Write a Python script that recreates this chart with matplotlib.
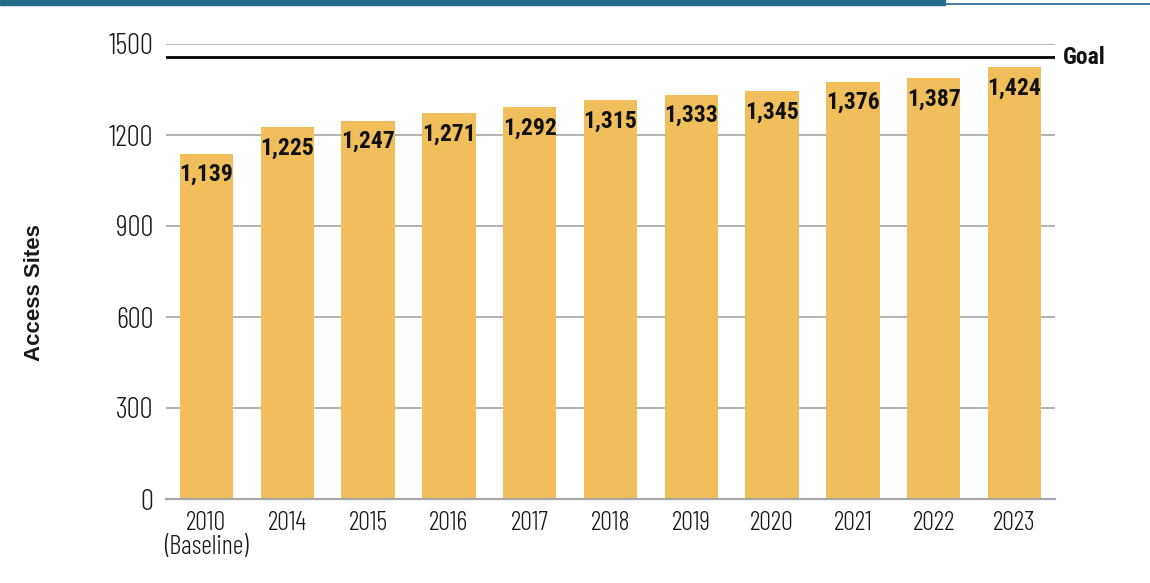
import matplotlib
matplotlib.use("Agg")
import matplotlib.pyplot as plt
from matplotlib.patches import Rectangle
from matplotlib.lines import Line2D

# Data
years = ["2010\n(Baseline)", "2014", "2015", "2016", "2017", "2018",
         "2019", "2020", "2021", "2022", "2023"]
access_sites = [1139, 1225, 1247, 1271, 1292, 1315, 1333, 1345, 1376, 1387, 1424]
goal = 1456
y_ticks = [0, 300, 600, 900, 1200, 1500]

BAR_COLOR = "#F0BF5B"
GRID_COLOR = "#A6A6A6"
TEAL = "#236B8C"

LIGHT_FONT = ["Barlow Condensed", "Roboto Condensed", "DejaVu Sans"]
BOLD_FONT = ["Roboto Condensed", "Barlow Condensed", "DejaVu Sans"]
LABEL_FONT = ["Liberation Sans", "DejaVu Sans"]

W, H = 1150, 583
fig = plt.figure(figsize=(W / 100, H / 100), dpi=100)

# header band
fig.patches.append(Rectangle((0, 1 - 4.5 / H), 945 / W, 4.5 / H,
                             transform=fig.transFigure, color=TEAL, zorder=5))
fig.lines.append(Line2D([945 / W, 1], [1 - 3.5 / H, 1 - 3.5 / H],
                        transform=fig.transFigure, color=TEAL, lw=1.2, zorder=5))

ax = fig.add_axes([166 / W, 1 - 499 / H, (1055 - 166) / W, (499 - 44) / H])

x = list(range(len(years)))
bars = ax.bar(x, access_sites, width=0.66, color=BAR_COLOR, zorder=2)

ax.set_xlim(-0.5, len(years) - 0.5)
ax.set_ylim(0, 1500)
ax.set_yticks(y_ticks)
ax.set_yticklabels([str(v) for v in y_ticks], family=LIGHT_FONT,
                   fontsize=21, fontweight=300, color="#1A1A1A")
ax.set_xticks(x)
ax.set_xticklabels(years, family=LIGHT_FONT, fontsize=19, fontweight=300,
                   color="#1A1A1A", linespacing=0.95)
ax.tick_params(axis="y", length=0, pad=9)
ax.tick_params(axis="x", length=0, pad=9)

ax.yaxis.grid(True, color=GRID_COLOR, lw=1.2, zorder=0)
ax.set_axisbelow(True)
for side in ["top", "right", "left"]:
    ax.spines[side].set_visible(False)
ax.spines["bottom"].set_color(GRID_COLOR)
ax.spines["bottom"].set_linewidth(1.6)
ax.spines["bottom"].set_zorder(3)

# goal line
ax.axhline(goal, color="black", lw=2.0, zorder=3)
ax.annotate("Goal", xy=(1, goal), xycoords=("axes fraction", "data"),
            xytext=(6, 0), textcoords="offset points", ha="left", va="center",
            family=BOLD_FONT, fontweight="bold", fontsize=17, color="#111111")

# value labels inside the bars
for xi, v in zip(x, access_sites):
    ax.annotate(f"{v:,}", xy=(xi, v), xytext=(0, -15), textcoords="offset points",
                ha="center", va="center", family=BOLD_FONT, fontweight="bold",
                fontsize=17, color="#111111", zorder=4)

fig.text(34 / W, 1 - 293 / H, "Access Sites", rotation=90, ha="center", va="center",
         family=LABEL_FONT, fontweight="bold", fontsize=16, color="#1A1A1A")

fig.savefig("out.png", dpi=100)
